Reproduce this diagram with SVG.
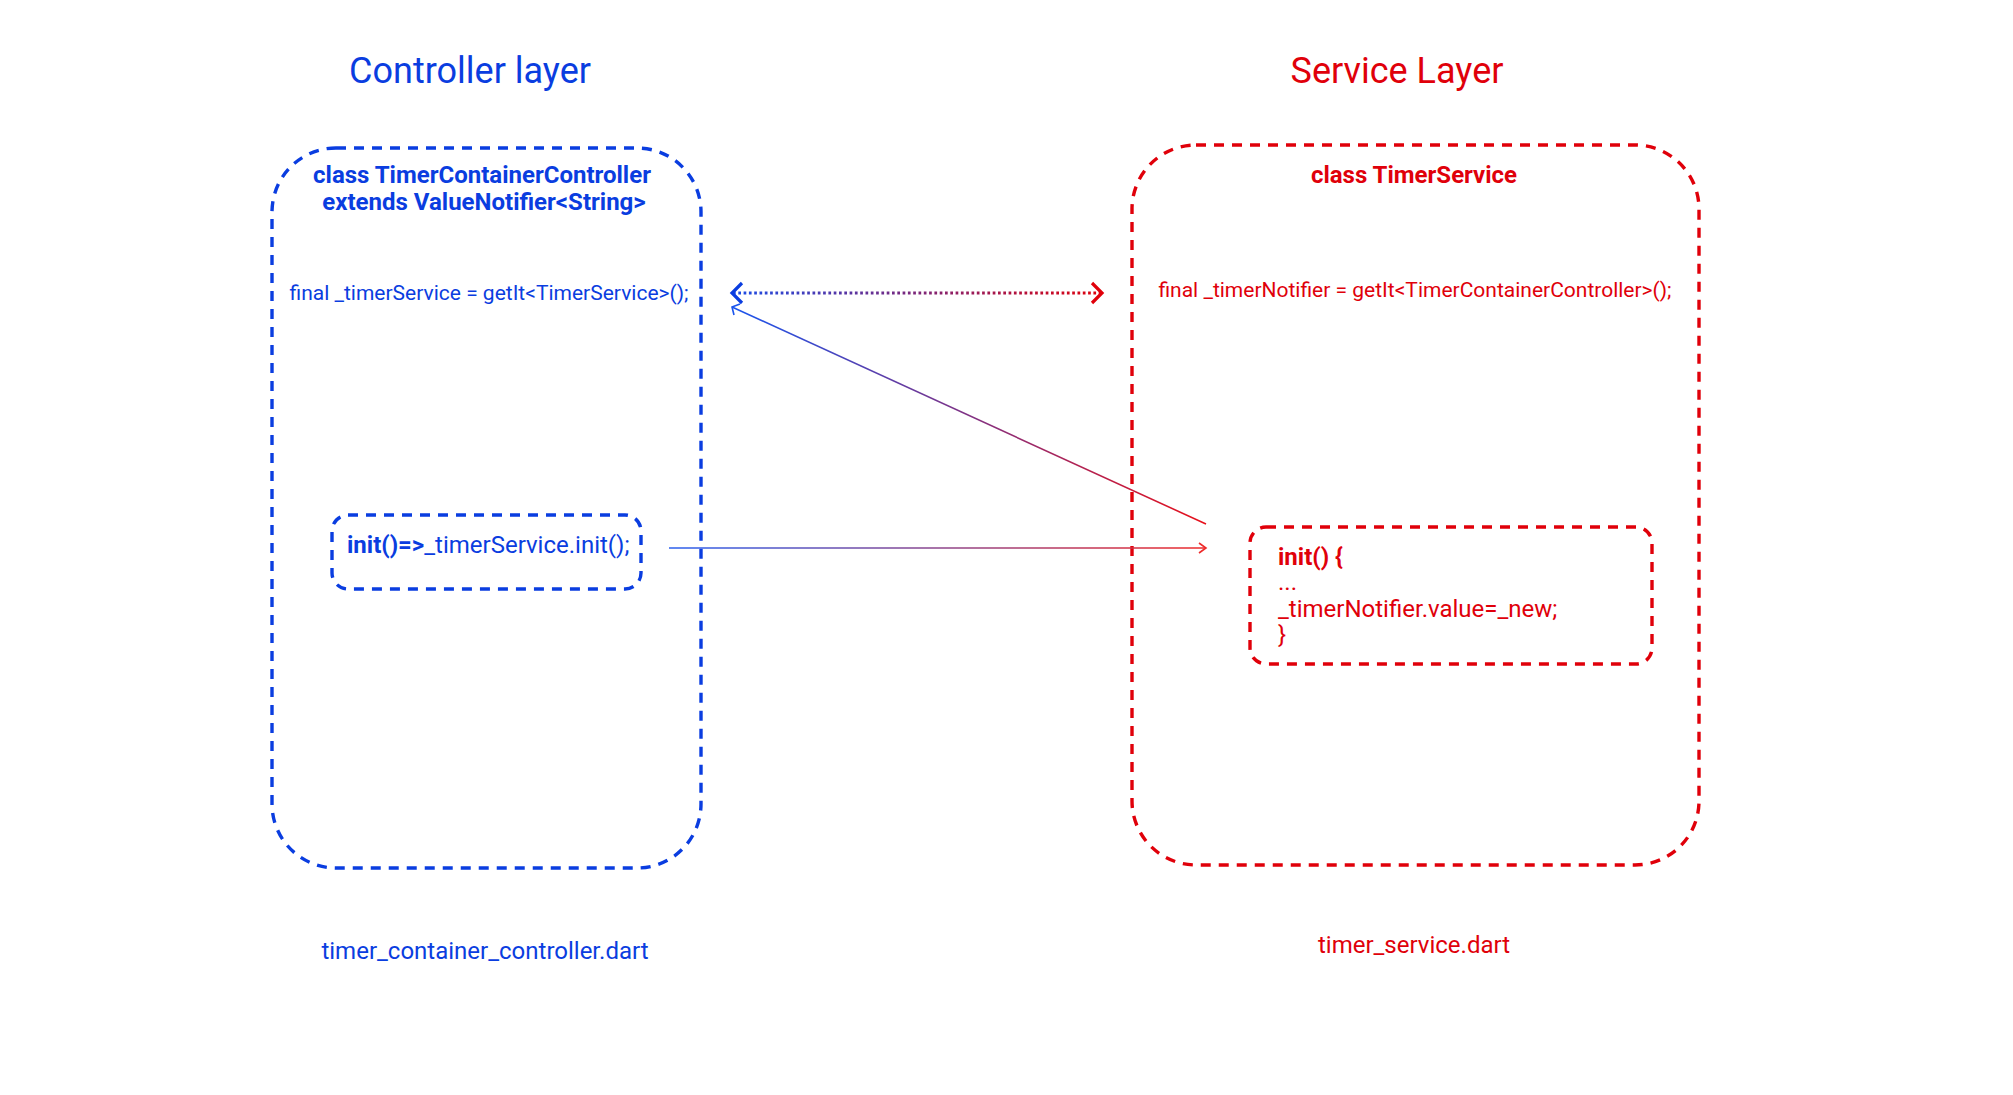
<svg xmlns="http://www.w3.org/2000/svg" width="2013" height="1095" viewBox="0 0 2013 1095">
<style>
.t{font-family:Roboto,"Liberation Sans",sans-serif}
.b{fill:#0a3de0}
.r{fill:#e0000a}
.bold{font-weight:bold}
.ob{fill:none;stroke:#0a3de0;stroke-width:3.4;stroke-dasharray:10 8}
.or{fill:none;stroke:#e0000a;stroke-width:3.4;stroke-dasharray:10 8}
</style>
<defs>
<linearGradient id="gd" gradientUnits="userSpaceOnUse" x1="731" y1="0" x2="1103" y2="0"><stop offset="0" stop-color="#1a4de8"/><stop offset="1" stop-color="#e0000a"/></linearGradient>
<linearGradient id="gdiag" gradientUnits="userSpaceOnUse" x1="732" y1="307" x2="1206" y2="524"><stop offset="0" stop-color="#1a55ee"/><stop offset="1" stop-color="#e8101a"/></linearGradient>
<linearGradient id="gh" gradientUnits="userSpaceOnUse" x1="669" y1="0" x2="1207" y2="0"><stop offset="0" stop-color="#2a60ee"/><stop offset="1" stop-color="#ee2a2a"/></linearGradient>
</defs>
<rect width="2013" height="1095" fill="#fff"/>
<text class="t b" x="470" y="83" font-size="36" text-anchor="middle">Controller layer</text>
<text class="t r" x="1397" y="83" font-size="36" text-anchor="middle">Service Layer</text>
<g id="controller">
<rect class="ob" x="272" y="148" width="429" height="720" rx="64" ry="64"/>
<text class="t b bold" x="482" y="183" font-size="24" text-anchor="middle">class TimerContainerController</text>
<text class="t b bold" x="484" y="210" font-size="24" text-anchor="middle">extends ValueNotifier&lt;String&gt;</text>
<text class="t b" x="489" y="300" font-size="21" text-anchor="middle">final _timerService = getIt&lt;TimerService&gt;();</text>
</g>
<g id="controller-init">
<rect class="ob" x="332" y="515" width="309" height="74" rx="16" ry="16"/>
<text class="t b" x="347" y="553" font-size="24"><tspan class="bold">init()=&gt;</tspan>_timerService.init();</text>
</g>
<g id="service">
<rect class="or" x="1132" y="145" width="567" height="720" rx="64" ry="64"/>
<text class="t r bold" x="1414" y="183" font-size="24" text-anchor="middle">class TimerService</text>
<text class="t r" x="1415" y="297" font-size="21" text-anchor="middle">final _timerNotifier = getIt&lt;TimerContainerController&gt;();</text>
</g>
<g id="service-init">
<rect class="or" x="1250" y="527" width="402" height="137" rx="16" ry="16"/>
<text class="t r" font-size="24"><tspan class="bold" x="1278" y="565">init() {</tspan><tspan x="1278" y="590">...</tspan><tspan x="1278" y="617">_timerNotifier.value=_new;</tspan><tspan x="1278" y="643">}</tspan></text>
</g>
<text class="t b" x="485" y="959" font-size="24" text-anchor="middle">timer_container_controller.dart</text>
<text class="t r" x="1414" y="953" font-size="24" text-anchor="middle">timer_service.dart</text>
<g id="connectors" fill="none">
<line x1="733" y1="293" x2="1101" y2="293" stroke="url(#gd)" stroke-width="3" stroke-dasharray="2.7 2.6"/>
<path d="M742 283 L732 293 L742 303" stroke="#0a3de0" stroke-width="3.2"/>
<path d="M1092 283 L1102 293 L1092 303" stroke="#e0000a" stroke-width="3.2"/>
<line x1="732" y1="307" x2="1206" y2="524" stroke="url(#gdiag)" stroke-width="1.6"/>
<path d="M734 315 L732 307 L740 304" stroke="#1a55ee" stroke-width="1.6"/>
<line x1="669" y1="548" x2="1206" y2="548" stroke="url(#gh)" stroke-width="1.6"/>
<path d="M1199 543 L1206 548 L1199 553" stroke="#ee2a2a" stroke-width="1.6"/>
</g>
</svg>
